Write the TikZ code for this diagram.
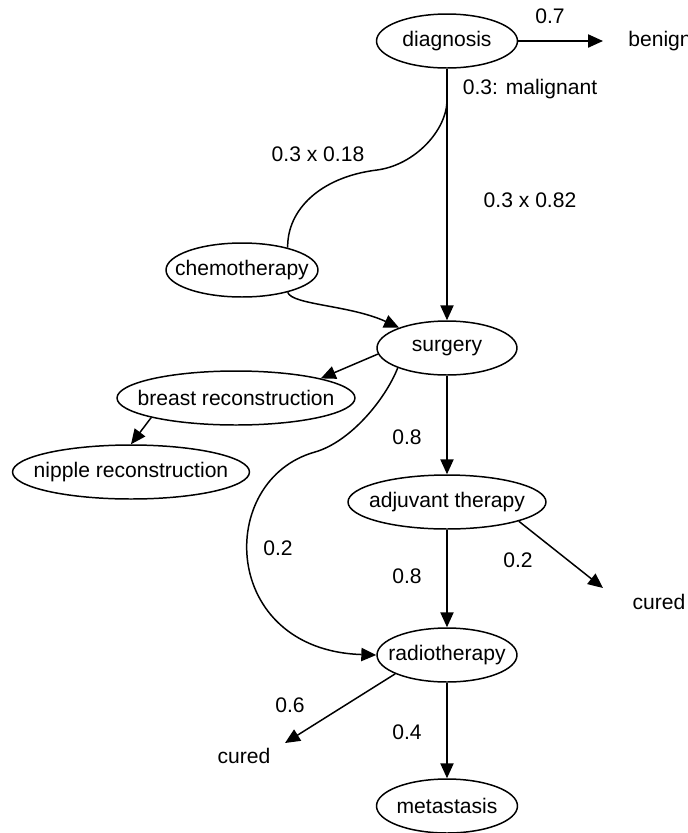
\documentclass[tikz,border=0pt]{standalone}
\usepackage{fontspec}
\setmainfont{Liberation Sans}
\usetikzlibrary{arrows.meta,shapes.geometric}
\definecolor{DtInk}{RGB}{0,0,0}
\tikzset{
  dt/state/.style={
    ellipse,
    draw=DtInk,
    line width=0.85pt,
    fill=white,
    inner sep=0pt,
    minimum height=1.08cm,
    text=DtInk,
    font=\fontsize{12}{14}\selectfont,
    execute at begin node={\hbox to 0pt\bgroup\hss},
    execute at end node={\hss\egroup}
  },
  dt/outcome/.style={inner sep=0pt, text=DtInk, font=\fontsize{12}{14}\selectfont},
  dt/prob/.style={inner sep=0pt, text=DtInk, font=\fontsize{12}{14}\selectfont},
  dt/arrow/.style={-{Triangle[length=8.5pt,width=7.5pt]}, line width=0.85pt, draw=DtInk},
  dt/line/.style={line width=0.85pt, draw=DtInk}
}
\begin{document}
\begin{tikzpicture}[x=0.02cm,y=-0.02cm]
  \useasboundingbox (0,0) rectangle (688,833);
  % states
  \node[dt/state,minimum width=2.82cm] (diag) at (447,41) {diagnosis};
  \node[dt/state,minimum width=3.04cm] (chemo) at (242,270) {chemotherapy};
  \node[dt/state,minimum width=2.8cm] (surg) at (447,348) {surgery};
  \node[dt/state,minimum width=4.76cm] (br) at (236,398) {breast reconstruction};
  \node[dt/state,minimum width=4.74cm] (nip) at (131,472) {nipple reconstruction};
  \node[dt/state,minimum width=3.96cm] (adj) at (447,502) {adjuvant therapy};
  \node[dt/state,minimum width=2.8cm] (radio) at (447,655) {radiotherapy};
  \node[dt/state,minimum width=2.82cm] (meta) at (447,806) {metastasis};
  % outcomes
  \node[dt/outcome] (benign) at (660,41) {benign};
  \node[dt/outcome] (curedR) at (659,602) {cured};
  \node[dt/outcome] (curedL) at (244,756) {cured};
  \coordinate (benignTip) at (603,41);
  \coordinate (curedRTip) at (603,588);
  \coordinate (curedLTip) at (285,743);
  \coordinate (fork) at (447,100);
  % edges
  \draw[dt/arrow] (diag.east) -- (benignTip);
  \draw[dt/arrow] (diag.south) -- (surg.north);
  \draw[dt/line] (fork) .. controls (447,130) and (415,165) .. (377,170)
    .. controls (320,177) and (287,210) .. (chemo.26);
  \draw[dt/arrow] (chemo.334) .. controls (292,305) and (350,305) .. (surg.157);
  \draw[dt/arrow] (surg.185) -- (br.13);
  \draw[dt/arrow] (br.193) -- (nip.north);
  \draw[dt/arrow] (surg.202) .. controls (385,400) and (350,442) .. (315,452)
    .. controls (215,480) and (220,650) .. (radio.west);
  \draw[dt/arrow] (surg.south) -- (adj.north);
  \draw[dt/arrow] (adj.south) -- (radio.north);
  \draw[dt/arrow] (adj.345) -- (curedRTip);
  \draw[dt/arrow] (radio.200) -- (curedLTip);
  \draw[dt/arrow] (radio.south) -- (meta.north);
  % probabilities
  \node[dt/prob] (pBenign) at (550,16) {0.7};
  \node[dt/prob] (pMalig) at (530,89) {0.3: malignant};
  \node[dt/prob] (pChemo) at (318,154) {0.3 x 0.18};
  \node[dt/prob] (pSurg) at (530,200) {0.3 x 0.82};
  \node[dt/prob] (pAdj) at (407,437) {0.8};
  \node[dt/prob] (pRadioA) at (278,548) {0.2};
  \node[dt/prob] (pRadioB) at (407,576) {0.8};
  \node[dt/prob] (pCuredR) at (518,560) {0.2};
  \node[dt/prob] (pCuredL) at (290,705) {0.6};
  \node[dt/prob] (pMeta) at (407,732) {0.4};
\end{tikzpicture}
\end{document}
